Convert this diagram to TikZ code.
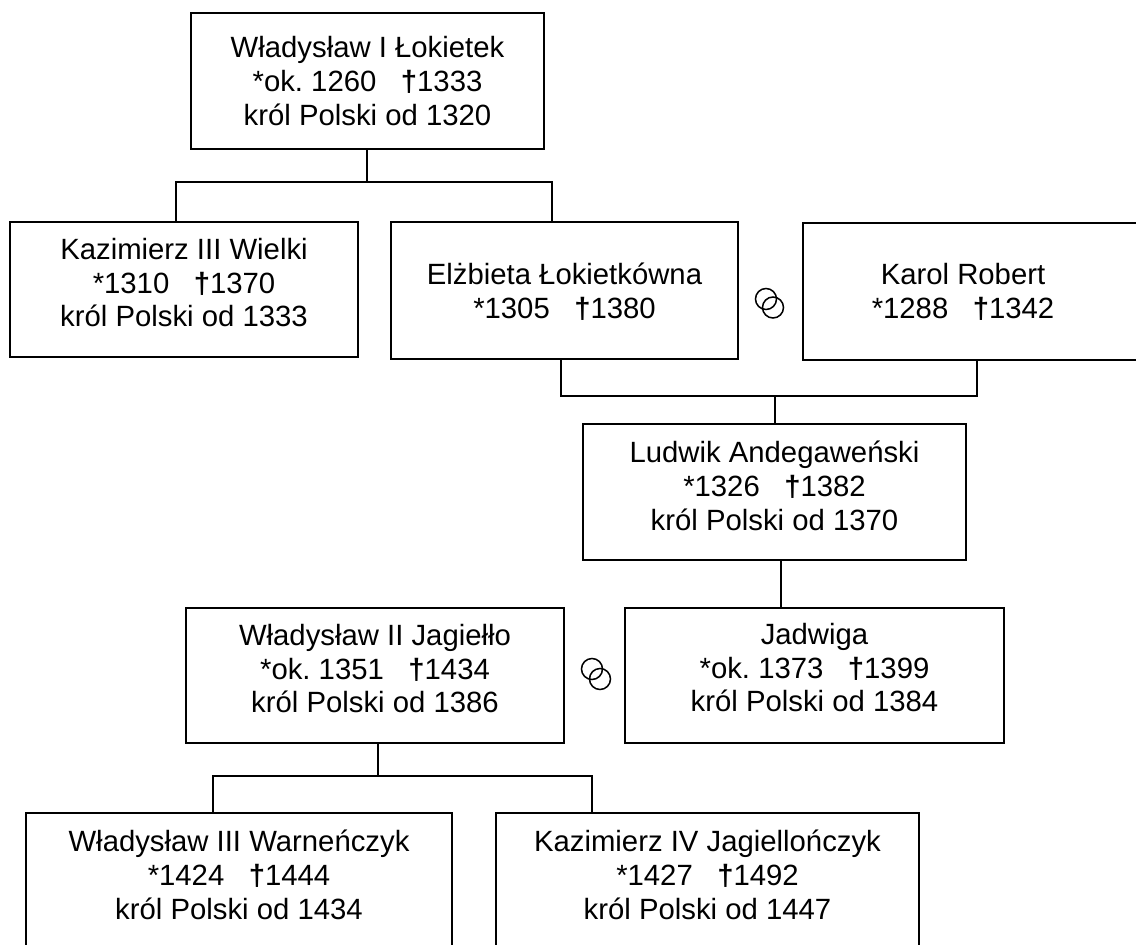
\documentclass[tikz,border=0pt]{standalone}
\usepackage{fontspec}
\setmainfont{Liberation Sans}
\frenchspacing
\tikzset{
  osoba/.style={draw, line width=2pt, align=center, inner sep=0pt, font=\fontsize{29.3}{33.8}\selectfont},
  linia/.style={line width=1.8pt},
  obraczka/.style={draw, circle, line width=1.5pt, minimum size=21pt, inner sep=0pt}
}
\newcommand{\krzyz}{\textbf{†}}
\newcommand{\nizej}{\rule{0pt}{24.5pt}}
\newcommand{\wyzej}[1]{\rule[-#1pt]{0pt}{1pt}}
\newcommand{\wlewo}{\hspace*{27pt}}
\begin{document}
\begin{tikzpicture}[x=1pt,y=-1pt]
  \useasboundingbox (0,0) rectangle (1136,945);
  \clip (0,0) rectangle (1136,945);

  % Persons
  \node [osoba, minimum width=353pt, minimum height=136pt] (lokietek) at (367.5,81) {Władysław I Łokietek\\*ok. 1260 \ \ \krzyz1333\\król Polski od 1320};
  \node [osoba, minimum width=348pt, minimum height=135pt] (kazimierz) at (184,289.5) {Kazimierz III Wielki\\*1310 \ \ \krzyz1370\\król Polski od 1333\wyzej{14}};
  \node [osoba, minimum width=347pt, minimum height=137pt] (elzbieta) at (564.5,290.5) {\nizej Elżbieta Łokietkówna\\*1305 \ \ \krzyz1380};
  \node [osoba, minimum width=347pt, minimum height=137pt] (karol) at (976.5,291.5) {Karol Robert\wlewo\\*1288 \ \ \krzyz1342\wlewo};
  \node [osoba, minimum width=383pt, minimum height=136pt] (ludwik) at (774.5,492) {Ludwik Andegaweński\\*1326 \ \ \krzyz1382\\król Polski od 1370\wyzej{13}};
  \node [osoba, minimum width=378pt, minimum height=135pt] (jagiello) at (375,675.5) {Władysław II Jagiełło\\*ok. 1351 \ \ \krzyz1434\\król Polski od 1386\wyzej{14}};
  \node [osoba, minimum width=379pt, minimum height=135pt] (jadwiga) at (814.5,675.5) {Jadwiga\\*ok. 1373 \ \ \krzyz1399\\król Polski od 1384\wyzej{16}};
  \node [osoba, minimum width=426pt, minimum height=135pt] (warnenczyk) at (239,880.5) {Władysław III Warneńczyk\\*1424 \ \ \krzyz1444\\król Polski od 1434\wyzej{12}};
  \node [osoba, minimum width=423pt, minimum height=135pt] (jagiellonczyk) at (707.5,880.5) {Kazimierz IV Jagiellończyk\\*1427 \ \ \krzyz1492\\król Polski od 1447\wyzej{12}};

  % Rings
  \node [obraczka] (ringa) at (766,299) {};
  \node [obraczka] (ringb) at (773,307.5) {};
  \node [obraczka] (ringc) at (592,669) {};
  \node [obraczka] (ringd) at (600,679) {};

  % Joints
  \coordinate (forka) at (176,182);
  \coordinate (forkb) at (552,182);
  \coordinate (forkc) at (561,396);
  \coordinate (forkd) at (977,396);
  \coordinate (forke) at (775,396);
  \coordinate (forkf) at (781,560);
  \coordinate (forkg) at (378,776);
  \coordinate (forkh) at (213,776);
  \coordinate (forki) at (592,776);
  \coordinate (forkj) at (367,182);

  % Lines
  \draw [linia] (forkj |- lokietek.south) -- (forkj);
  \draw [linia] (forka |- kazimierz.north) -- (forka) -- (forkb) -- (forkb |- elzbieta.north);
  \draw [linia] (forkc |- elzbieta.south) -- (forkc) -- (forkd) -- (forkd |- karol.south);
  \draw [linia] (forke) -- (forke |- ludwik.north);
  \draw [linia] (forkf) -- (forkf |- jadwiga.north);
  \draw [linia] (forkg |- jagiello.south) -- (forkg);
  \draw [linia] (forkh |- warnenczyk.north) -- (forkh) -- (forki) -- (forki |- jagiellonczyk.north);
\end{tikzpicture}
\end{document}
